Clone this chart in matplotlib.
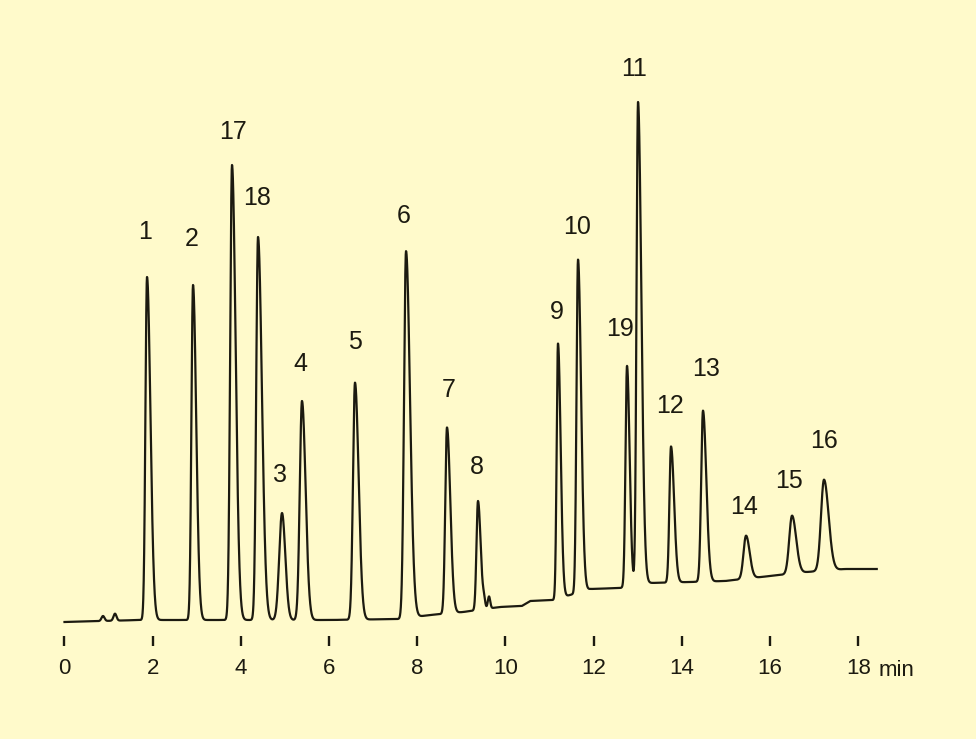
import numpy as np
import matplotlib
matplotlib.use("Agg")
import matplotlib.pyplot as plt

plt.rcParams['font.family'] = ['Liberation Sans', 'DejaVu Sans']

# peak table: name, retention time [min], height, left/right width [min]
peak_names = ["n1", "n2", "1", "2", "17", "18", "3", "4", "5", "6", "7", "8",
              "b1", "b2", "9", "10", "19", "11", "12", "13", "14", "15", "16"]
peak_t = [0.873, 1.145, 1.871, 2.914, 3.798, 4.388, 4.932, 5.385, 6.587, 7.744,
          8.673, 9.376, 9.512, 9.626, 11.190, 11.644, 12.755, 13.005, 13.753,
          14.478, 15.454, 16.497, 17.222]
peak_h = [5, 7, 343, 335, 455, 383, 107, 219, 237, 367, 186, 109, 8, 12,
          255, 333, 221, 483, 136, 171, 43, 58, 91]
sig_l = [0.034, 0.034, 0.036, 0.036, 0.041, 0.041, 0.063, 0.050, 0.045, 0.045,
         0.039, 0.034, 0.027, 0.027, 0.030, 0.034, 0.034, 0.034, 0.036, 0.041,
         0.057, 0.063, 0.068]
sig_r = [0.034, 0.034, 0.077, 0.072, 0.082, 0.088, 0.075, 0.082, 0.082, 0.090,
         0.075, 0.060, 0.027, 0.027, 0.060, 0.070, 0.059, 0.075, 0.070, 0.075,
         0.082, 0.093, 0.104]

# baseline drift
base_t = [0, 1.71, 6.02, 7.6, 8.29, 9.04, 9.87, 10.37, 10.56, 11.08, 11.92,
          12.6, 13.27, 14.18, 14.98, 16.0, 16.84, 17.7, 18.42]
base_y = [0, 2, 2, 3, 7, 10, 15, 16, 21, 22, 33, 34, 39, 40, 41, 46, 50, 53, 53]

# labelled peaks and where their numbers sit
label_text = ["1", "2", "17", "18", "3", "4", "5", "6", "7", "8", "9", "10",
              "19", "11", "12", "13", "14", "15", "16"]
label_x = [1.825, 2.891, 3.821, 4.365, 4.887, 5.34, 6.587, 7.698, 8.72, 9.354,
           11.168, 11.621, 12.59, 12.914, 13.73, 14.546, 15.408, 16.429, 17.222]
label_y = [390, 383, 490, 424, 147, 258, 280, 406, 232, 155, 310, 395, 293, 553,
           216, 253, 115, 141, 181]

ticks = [0, 2, 4, 6, 8, 10, 12, 14, 16, 18]

t = np.arange(0, 18.42, 0.002)
signal = np.interp(t, base_t, base_y)
for i in range(len(peak_t)):
    s = np.where(t < peak_t[i], sig_l[i], sig_r[i])
    signal = signal + peak_h[i] * np.exp(-0.5 * ((t - peak_t[i]) / s) ** 2)

bg = "#FFFACB"
ink = "#1c1a10"

fig = plt.figure(figsize=(9.76, 7.39), dpi=100, facecolor=bg)
ax = fig.add_axes([0, 93 / 739, 1, 646 / 739])
ax.set_facecolor(bg)

ax.plot(t, signal, color=ink, lw=1.6)

for i in range(len(label_text)):
    ax.text(label_x[i], label_y[i], label_text[i], ha="center", va="center",
            fontsize=18, color=ink)

ax.set_xlim(-64.5 / 44.1, (976 - 64.5) / 44.1)
ax.set_ylim(-24, 622)
ax.set_xticks(ticks)
ax.set_xticklabels([str(v) for v in ticks])
ax.tick_params(axis="x", direction="in", length=7.2, width=1.7, color=ink,
               labelsize=16, labelcolor=ink, pad=9)
ax.yaxis.set_visible(False)
for sp in ax.spines.values():
    sp.set_visible(False)

ax.text(18.45, -48, "min", ha="left", va="center", fontsize=16, color=ink)

fig.savefig("out.png", dpi=100, facecolor=bg)
